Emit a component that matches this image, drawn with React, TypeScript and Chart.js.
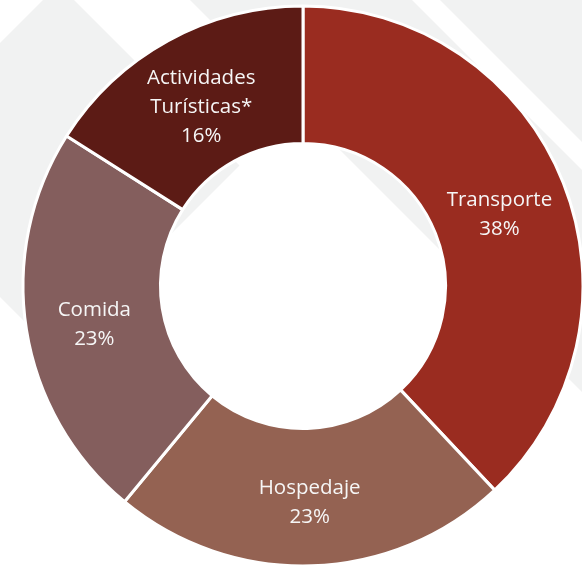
import React, { useEffect, useRef } from "react";
import { Chart, registerables } from "chart.js";

Chart.register(...registerables);

// ---- Data ----
const categories = ["Transporte", "Hospedaje", "Comida", "Actividades Turísticas*"];
const labelLines = [["Transporte"], ["Hospedaje"], ["Comida"], ["Actividades", "Turísticas*"]];
const shares = [38, 23, 23, 16];
const sliceColors = ["#9A2C20", "#946252", "#845E5D", "#5C1B15"];

// ---- Style ----
const WATERMARK = "#F1F2F2";
const FONT = "'Open Sans', 'Noto Sans', sans-serif";
const LABEL_SHIFT_Y = 6;
const LINE_HEIGHT = 29;

const watermarkPlugin = {
  id: "watermark",
  beforeDraw(chart: any) {
    const ctx = chart.ctx;
    ctx.save();
    ctx.fillStyle = WATERMARK;
    const polys = [
      [[58.5, -15.5], [239.5, 165.5], [54, 351], [-127, 170]],
      [[170, -20], [392, -20], [1012, 600], [790, 600]],
      [[420, -20], [700, -20], [700, 260]],
    ];
    for (const p of polys) {
      ctx.beginPath();
      ctx.moveTo(p[0][0], p[0][1]);
      for (let i = 1; i < p.length; i++) ctx.lineTo(p[i][0], p[i][1]);
      ctx.closePath();
      ctx.fill();
    }
    ctx.restore();
  },
};

const labelPlugin = {
  id: "sliceLabels",
  afterDatasetsDraw(chart: any) {
    const ctx = chart.ctx;
    const meta = chart.getDatasetMeta(0);
    ctx.save();
    ctx.fillStyle = "#F6F6F6";
    ctx.font = `20.5px ${FONT}`;
    ctx.textAlign = "center";
    ctx.textBaseline = "middle";
    meta.data.forEach((arc: any, i: number) => {
      const pos = arc.tooltipPosition();
      const lines = [...labelLines[i], `${shares[i]}%`];
      const start = pos.y + LABEL_SHIFT_Y - ((lines.length - 1) * LINE_HEIGHT) / 2;
      lines.forEach((t: string, j: number) => {
        ctx.fillText(t, pos.x, start + j * LINE_HEIGHT);
      });
    });
    ctx.restore();
  },
};

export default function App() {
  const ref = useRef<HTMLCanvasElement | null>(null);
  useEffect(() => {
    if (!ref.current) return;
    const chart = new Chart(ref.current, {
      type: "doughnut",
      data: {
        labels: categories,
        datasets: [
          {
            data: shares,
            backgroundColor: sliceColors,
            borderColor: "#FFFFFF",
            borderWidth: 3,
          },
        ],
      },
      options: {
        responsive: false,
        animation: false,
        radius: 280,
        cutout: "50.9%",
        layout: { padding: { left: 24, right: 0, top: 5, bottom: 0 } },
        plugins: {
          legend: { display: false },
          tooltip: { enabled: false },
        },
      } as any,
      plugins: [watermarkPlugin, labelPlugin],
    });
    return () => chart.destroy();
  }, []);
  return (
    <div style={{ position: "absolute", left: 0, top: 0, width: 582, height: 567, background: "#FFFFFF" }}>
      <canvas ref={ref} width={582} height={567} style={{ width: 582, height: 567, display: "block" }} />
    </div>
  );
}
